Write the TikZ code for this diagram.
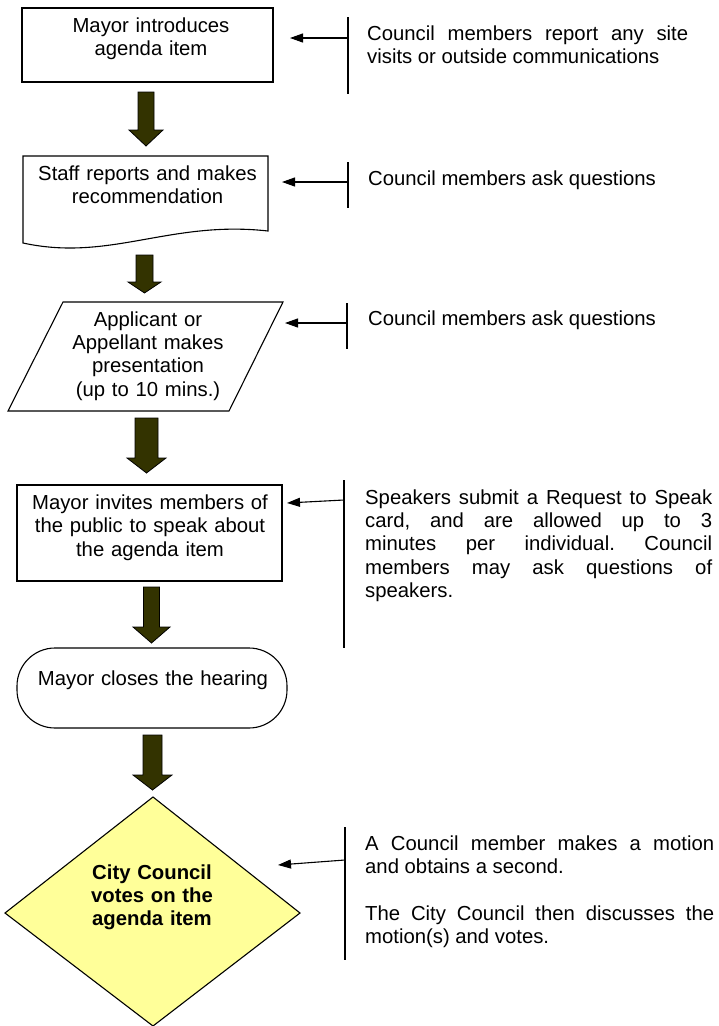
\documentclass[tikz,border=0pt]{standalone}
\usepackage{fontspec}
\setmainfont{Liberation Sans}
\usetikzlibrary{arrows.meta}
\definecolor{arrowfill}{HTML}{333300}
\definecolor{dyellow}{HTML}{FFFF99}
\tikzset{
  box/.style={draw, line width=1.1pt, fill=white},
  lbl/.style={inner sep=0pt, anchor=base, font=\fontsize{20.3pt}{23.4pt}\selectfont,
              execute at begin node={\tolerance=10000\hyphenpenalty=10000\frenchspacing}},
  ctext/.style={lbl, text width=#1, align=center},
  jtext/.style={lbl, anchor=base west, text width=#1, align=justify},
  blockarrow/.style={fill=arrowfill, draw=black, line width=0.8pt},
  callout/.style={line width=1.1pt, -{Triangle[length=13pt,width=9pt]}},
  bar/.style={line width=1.3pt},
}
\newcommand{\blockarr}[6]{%
  \draw[blockarrow] (#1-#3,#2) -- (#1+#3,#2) -- (#1+#3,#4) -- (#1+#5,#4) -- (#1,#6)
    -- (#1-#5,#4) -- (#1-#3,#4) -- cycle;}
\begin{document}
\begin{tikzpicture}[x=1pt,y=-1pt]
\useasboundingbox (0,0) rectangle (719,1026);

% --- main flow shapes ---
\node[box, minimum width=251pt, minimum height=74pt, inner sep=0pt] (b1) at (147.5,45) {};
\node[ctext=250pt] (t1) at (151,32.5) {Mayor introduces\\agenda item};

\draw[box] (23,156) -- (268,156) -- (268,231)
  .. controls (170,220) and (110,262) .. (23,243) -- cycle;
\node[ctext=250pt] (t2) at (147.5,180) {Staff reports and makes\\recommendation};

\draw[box] (63,302) -- (283,302) -- (229,411) -- (8,411) -- cycle;
\node[ctext=200pt] (t3) at (148,326) {Applicant or\\Appellant makes\\presentation\\(up to 10 mins.)};

\node[box, minimum width=265pt, minimum height=96pt, inner sep=0pt] (b4) at (149.5,533) {};
\node[ctext=265pt] (t4) at (150,509.5) {Mayor invites members of\\the public to speak about\\the agenda item};

\draw[box, rounded corners=38pt] (17,648) rectangle (287,728);
\node[ctext=265pt] (t5) at (153,685) {Mayor closes the hearing};

\draw[line width=1.1pt, fill=dyellow] (153,797) -- (300,913) -- (153,1026) -- (5,913) -- cycle;
\node[ctext=200pt, font=\fontsize{20.3pt}{23.4pt}\selectfont\bfseries] (t6) at (152,879) {City Council\\votes on the\\agenda item};

% --- block arrows ---
\blockarr{146}{92}{8}{130}{17}{146}
\blockarr{144.5}{255}{8.5}{282}{16.5}{293}
\blockarr{146.5}{418}{11.5}{458}{19.5}{473}
\blockarr{151.5}{587}{8}{627}{18.5}{643}
\blockarr{152.5}{735}{9.5}{775}{19.5}{790}

% --- callouts ---
\coordinate (v1a) at (348,17);  \coordinate (v1b) at (348,94);
\coordinate (v1m) at (348,38);  \coordinate (p1) at (290,38);
\draw[bar] (v1a) -- (v1b);
\draw[callout] (v1m) -- (p1);
\node[jtext=321pt] (r1) at (367,40) {Council members report any site\linebreak visits or outside communications};

\coordinate (v2a) at (348,162); \coordinate (v2b) at (348,208);
\coordinate (v2m) at (348,182); \coordinate (p2) at (282,182);
\draw[bar] (v2a) -- (v2b);
\draw[callout] (v2m) -- (p2);
\node[lbl, anchor=base west] (r2) at (368,185) {Council members ask questions};

\coordinate (v3a) at (347,303); \coordinate (v3b) at (347,349);
\coordinate (v3m) at (347,323); \coordinate (p3) at (285,323);
\draw[bar] (v3a) -- (v3b);
\draw[callout] (v3m) -- (p3);
\node[lbl, anchor=base west] (r3) at (368,325) {Council members ask questions};

\coordinate (v4a) at (344,480); \coordinate (v4b) at (344,648);
\coordinate (v4m) at (344,500); \coordinate (p4) at (287,503);
\draw[bar] (v4a) -- (v4b);
\draw[callout] (v4m) -- (p4);
\node[jtext=347pt] (r4) at (365,504) {Speakers submit a Request to Speak\linebreak card, and are allowed up to 3\linebreak minutes per individual. Council\linebreak members may ask questions of\linebreak speakers.};

\coordinate (v5a) at (345,827); \coordinate (v5b) at (345,960);
\coordinate (v5m) at (345,860); \coordinate (p5) at (278,865);
\draw[bar] (v5a) -- (v5b);
\draw[callout] (v5m) -- (p5);
\node[jtext=349pt] (r5) at (365,850) {A Council member makes a motion\linebreak and obtains a second.\par\vspace{23.4pt}The City Council then discusses the\linebreak motion(s) and votes.};
\end{tikzpicture}
\end{document}
